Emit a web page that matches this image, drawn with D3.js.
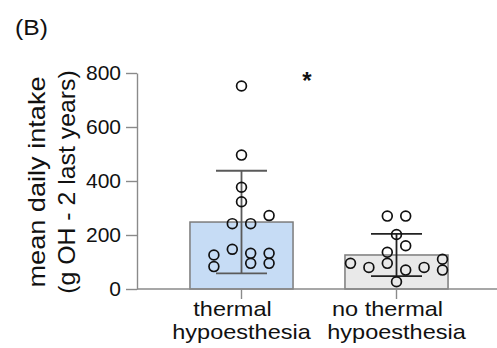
<!DOCTYPE html>
<html>
<head>
<meta charset="utf-8">
<script src="https://cdn.jsdelivr.net/npm/d3@7"></script>
<style>
  body { margin: 0; background: #fff; }
  text { font-family: "Liberation Sans", Arial, sans-serif; fill: #111; }
</style>
</head>
<body>
<div id="chart"></div>
<script>
// categories and label lines
const categories = ['thermal hypoesthesia', 'no thermal hypoesthesia'];
const labelLines = [['thermal', 'hypoesthesia'], ['no thermal', 'hypoesthesia']];

// bar heights (mean) and error (SD)
const means = [248, 126];
const sds = [190, 78];

// individual points: values and column offset in the swarm
const valuesA = [752, 496, 377, 323, 272, 242, 242, 147, 126, 83, 132, 95, 132, 95];
const columnsA = [0, 0, 0, 0, 1.5, -0.5, 0.5, -0.5, -1.5, -1.5, 0.5, 0.5, 1.5, 1.5];
const valuesB = [270, 270, 202, 160, 136, 95, 80, 95, 70, 80, 110, 70, 27];
const columnsB = [-0.5, 0.5, 0, 0.5, -0.5, -2.5, -1.5, -0.5, 0.5, 1.5, 2.5, 2.5, 0];

const yTicks = [0, 200, 400, 600, 800];
const barFills = ['#c6dcf5', '#e9e9e9'];
const errColors = ['#5a5a5a', '#222'];

const width = 497, height = 348;
const axisColor = '#8a8a8a';

const svg = d3.select('#chart').append('svg')
  .attr('width', width)
  .attr('height', height);

const x = d3.scaleBand()
  .domain(categories)
  .range([164, 474])
  .padding(0);

const y = d3.scaleLinear()
  .domain([0, 800])
  .range([289, 73]);

const jitter = d3.scaleLinear().domain([0, 1]).range([0, 18.4]);

const barW = x.bandwidth() * 0.665;
const center = c => x(c) + x.bandwidth() / 2;

// bars
svg.selectAll('rect.bar')
  .data(categories)
  .enter()
  .append('rect')
  .attr('class', 'bar')
  .attr('x', d => center(d) - barW / 2)
  .attr('y', (d, i) => y(means[i]))
  .attr('width', barW)
  .attr('height', (d, i) => y(0) - y(means[i]))
  .attr('fill', (d, i) => barFills[i])
  .attr('stroke', '#7c7c7c')
  .attr('stroke-width', 1.5);

// error bars
const capW = 51;
categories.forEach((c, i) => {
  const g = svg.append('g').attr('stroke', errColors[i]).attr('stroke-width', 1.8);
  const cx = center(c);
  g.append('line')
    .attr('x1', cx).attr('x2', cx)
    .attr('y1', y(means[i] + sds[i])).attr('y2', y(means[i] - sds[i]));
  [means[i] + sds[i], means[i] - sds[i]].forEach(v => {
    g.append('line')
      .attr('x1', cx - capW / 2).attr('x2', cx + capW / 2)
      .attr('y1', y(v)).attr('y2', y(v));
  });
});

// points
const groups = [
  { cat: categories[0], values: valuesA, cols: columnsA },
  { cat: categories[1], values: valuesB, cols: columnsB }
];
groups.forEach(gr => {
  svg.append('g').selectAll('circle')
    .data(gr.values)
    .enter()
    .append('circle')
    .attr('cx', (d, i) => center(gr.cat) + jitter(gr.cols[i]))
    .attr('cy', d => y(d))
    .attr('r', 4.9)
    .attr('fill', 'none')
    .attr('stroke', '#111')
    .attr('stroke-width', 1.7);
});

// y axis
const yAxis = svg.append('g')
  .attr('transform', 'translate(137,0)')
  .call(d3.axisLeft(y).tickValues(yTicks).tickSize(11).tickSizeOuter(0).tickPadding(5));
yAxis.select('.domain').attr('stroke', axisColor).attr('stroke-width', 1.4);
yAxis.selectAll('.tick line').attr('stroke', axisColor).attr('stroke-width', 1.4);
yAxis.selectAll('.tick text')
  .attr('font-size', 21)
  .attr('font-family', '"Liberation Sans", Arial, sans-serif')
  .attr('fill', '#111');

// x axis
const xAxis = svg.append('g')
  .attr('transform', 'translate(0,289)')
  .call(d3.axisBottom(x).tickSize(10).tickSizeOuter(0).tickFormat(''));
xAxis.select('.domain').attr('d', 'M137,0H497').attr('stroke', axisColor).attr('stroke-width', 1.4);
xAxis.selectAll('.tick line').attr('stroke', axisColor).attr('stroke-width', 1.4);

// category labels, two lines each
const stretch = 1.12;
categories.forEach((c, i) => {
  labelLines[i].forEach((line, j) => {
    const dx = j === 0 ? -9 : 0;
    svg.append('text')
      .attr('transform', `translate(${center(c) + dx},${316 + j * 23}) scale(${stretch},1)`)
      .attr('text-anchor', 'middle')
      .attr('font-size', 21)
      .text(line);
  });
});

// y axis title
const yTitle = ['mean daily intake', '(g OH - 2 last years)'];
const yTitleScale = [1.18, 1.08];
yTitle.forEach((t, j) => {
  svg.append('text')
    .attr('transform', `translate(${45 + j * 30},182) rotate(-90) scale(${yTitleScale[j]},1)`)
    .attr('text-anchor', 'middle')
    .attr('font-size', 23)
    .text(t);
});

// panel letter and significance mark
svg.append('text')
  .attr('transform', 'translate(15,35) scale(1.12,1)')
  .attr('font-size', 22)
  .text('(B)');

svg.append('text')
  .attr('x', 307)
  .attr('y', 89)
  .attr('text-anchor', 'middle')
  .attr('font-size', 24)
  .attr('font-weight', 'bold')
  .text('*');
</script>
</body>
</html>
